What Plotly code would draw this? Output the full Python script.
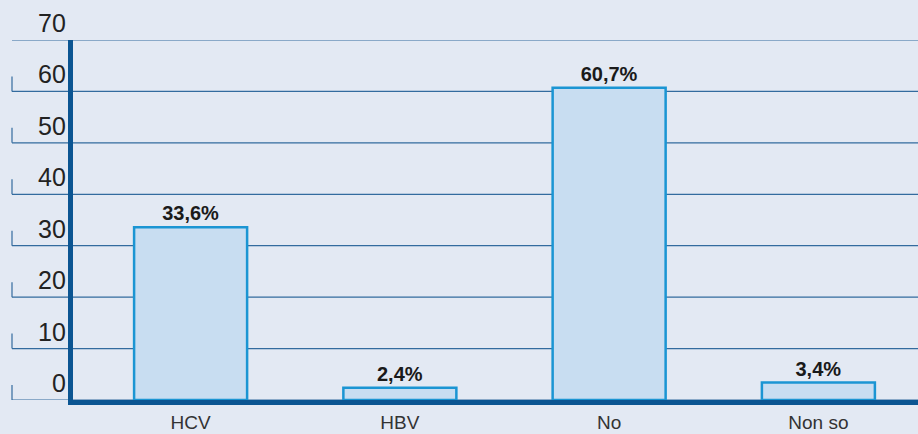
import plotly.graph_objects as go

# data
categories = ["HCV", "HBV", "No", "Non so"]
values = [33.6, 2.4, 60.7, 3.4]
y_ticks = [0, 10, 20, 30, 40, 50, 60, 70]

W, H = 918, 434
ML, MR, MT, MB = 73, 0, 40, 34
plot_w = W - ML - MR

def px_to_paper(px):
    return (px - ML) / plot_w

fig = go.Figure()
fig.add_trace(go.Bar(
    x=categories, y=values,
    width=0.54,
    marker=dict(color="#C8DDF1", line=dict(color="#1B95D3", width=2.5)),
    texttemplate="<b>%{y:.1f}%</b>", textposition="outside",
    textfont=dict(family="Liberation Sans", size=20, color="#1a1a1a"),
    cliponaxis=False, hoverinfo="skip",
))

shapes = []
annotations = []
for v in y_ticks:
    # gridline running out past the axis to the left
    shapes.append(dict(type="line", xref="paper", yref="y", layer="below",
                       x0=px_to_paper(12), x1=1, y0=v, y1=v,
                       line=dict(color="#336B9E", width=1.2)))
    # little upright tick at the far left
    shapes.append(dict(type="line", xref="paper", yref="y", ysizemode="pixel",
                       yanchor=v, x0=px_to_paper(12), x1=px_to_paper(12), y0=0, y1=15,
                       line=dict(color="#336B9E", width=1.2)))
    annotations.append(dict(text=str(v), xref="paper", yref="y",
                            x=px_to_paper(68), y=v, xanchor="right", yanchor="bottom",
                            yshift=1, showarrow=False,
                            font=dict(family="Liberation Sans", size=25, color="#222222")))

fig.update_layout(
    width=W, height=H,
    margin=dict(l=ML, r=MR, t=MT, b=MB),
    paper_bgcolor="#E3E9F3", plot_bgcolor="#E3E9F3",
    separators=",.",
    showlegend=False,
    shapes=shapes, annotations=annotations,
    xaxis=dict(range=[-0.562, 3.476], showgrid=False, zeroline=False,
               showline=True, linecolor="#0B5592", linewidth=5,
               ticks="", ticklabelstandoff=1, automargin=False,
               tickfont=dict(family="Liberation Sans", size=19, color="#333333")),
    yaxis=dict(range=[0, 70], showgrid=False, zeroline=False, showticklabels=False,
               showline=True, linecolor="#0B5592", linewidth=5, ticks="",
               automargin=False),
)

fig.write_html("out.html", config={"displayModeBar": False},
               post_script="document.body.style.margin='0';document.body.style.overflow='hidden';")
